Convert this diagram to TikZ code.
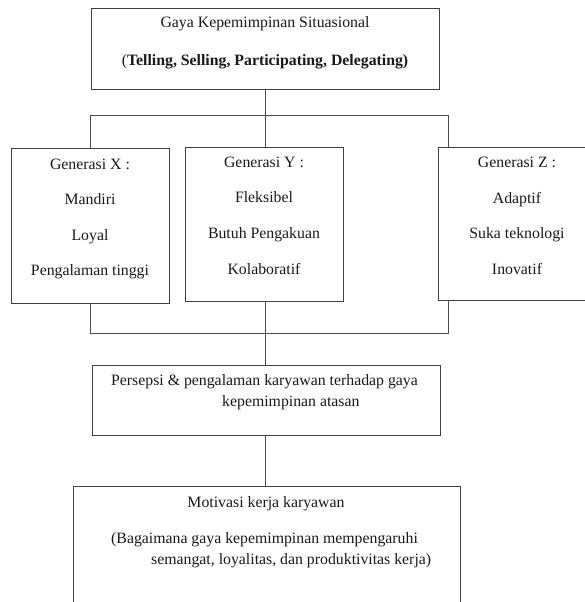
\documentclass[tikz,border=0pt]{standalone}
\usepackage{fontspec}
\setmainfont{Liberation Serif}
\begin{document}
\begin{tikzpicture}[x=1pt,y=-1pt,
  box/.style={draw=black!75, line width=0.9pt, inner sep=0pt, outer sep=0pt, anchor=north west},
  conn/.style={draw=black!70, line width=0.9pt},
  txt/.style={font=\fontsize{15.8}{21}\selectfont, inner sep=0pt, anchor=base, text=black!90},
  txtl/.style={txt, anchor=base west}]
\useasboundingbox (0,0) rectangle (585,602);
\clip (0,0) rectangle (585,602);
% boxes
\node[box, minimum width=348, minimum height=81] (top) at (91,8) {};
\node[box, minimum width=158, minimum height=155] (bx) at (11,148) {};
\node[box, minimum width=158, minimum height=154] (by) at (185,147) {};
\node[box, minimum width=162, minimum height=153] (bz) at (438,147) {};
\node[box, minimum width=348, minimum height=70] (per) at (92,365) {};
\node[box, minimum width=387, minimum height=154] (mot) at (73,486) {};
% texts
\node[txt] (t1) at (265,28) {Gaya Kepemimpinan Situasional};
\node[txt] (t2) at (265,66) {(\textbf{Telling, Selling, Participating, Delegating)}};
\node[txt] (x1) at (90,169) {Generasi X :};
\node[txt] (x2) at (90,204) {Mandiri};
\node[txt] (x3) at (90,240) {Loyal};
\node[txt] (x4) at (90,275) {Pengalaman tinggi};
\node[txt] (y1) at (264,167) {Generasi Y :};
\node[txt] (y2) at (264,202) {Fleksibel};
\node[txt] (y3) at (264,238) {Butuh Pengakuan};
\node[txt] (y4) at (264,274) {Kolaboratif};
\node[txt] (z1) at (517,167) {Generasi Z :};
\node[txt] (z2) at (517,203) {Adaptif};
\node[txt] (z3) at (517,238) {Suka teknologi};
\node[txt] (z4) at (517,274) {Inovatif};
\node[txt] (p1) at (264.5,385) {Persepsi \& pengalaman karyawan terhadap gaya};
\node[txtl] (p2) at (222,406) {kepemimpinan atasan};
\node[txt] (m1) at (266,507) {Motivasi kerja karyawan};
\node[txtl] (m2) at (111,543) {(Bagaimana gaya kepemimpinan mempengaruhi};
\node[txtl] (m3) at (151,564) {semangat, loyalitas, dan produktivitas kerja)};
% connectors
\coordinate (tl) at (90,115);
\coordinate (tr) at (448,115);
\coordinate (bl) at (90,333);
\coordinate (br) at (448,333);
\draw[conn] (top.south) -- (top.south |- by.north);
\draw[conn] (bx.north -| tl) -- (tl) -- (tr) -- (tr |- bz.north);
\draw[conn] (bx.south -| bl) -- (bl) -- (br) -- (br |- bz.south);
\draw[conn] (top.south |- by.south) -- (top.south |- per.north);
\draw[conn] (top.south |- per.south) -- (top.south |- mot.north);
\end{tikzpicture}
\end{document}
